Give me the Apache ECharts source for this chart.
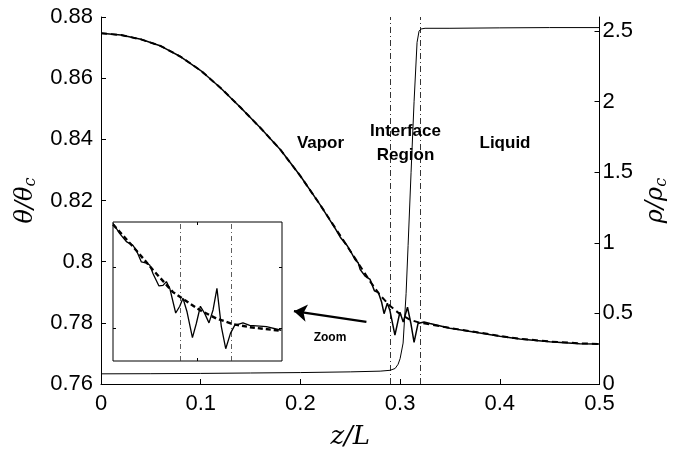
<!DOCTYPE html>
<html><head><meta charset="utf-8">
<script src="https://cdn.jsdelivr.net/npm/echarts@6/dist/echarts.min.js"></script>
<style>html,body{margin:0;padding:0;background:#fff}#c{width:678px;height:455px}</style>
</head><body><div id="c"></div>
<script>
// ---- main panel: temperature (simulation, noisy solid) ----
const zThetaSim = [0,0.02,0.04,0.06,0.08,0.10,0.12,0.14,0.16,0.18,0.20,0.22,0.235,0.24,0.2466,0.251,0.255,0.258,0.26,0.2649,0.2699,0.2742,0.2782,0.2815,0.2839,0.2872,0.2898,0.2948,0.2998,0.3031,0.3074,0.3108,0.3140,0.3180,0.3240,0.33,0.35,0.38,0.40,0.42,0.45,0.48,0.5];
const thetaSim = [0.8747,0.8741,0.8727,0.8705,0.8670,0.8625,0.8568,0.8504,0.8437,0.8366,0.8280,0.8185,0.8108,0.8080,0.8054,0.8030,0.8006,0.7996,0.7974,0.7953,0.7942,0.7905,0.7899,0.7867,0.7830,0.7864,0.7840,0.7760,0.7835,0.7803,0.7851,0.7798,0.7736,0.7798,0.7803,0.7798,0.7782,0.7767,0.7756,0.7747,0.7738,0.7732,0.7731];
// ---- main panel: temperature (smooth, dashed) ----
const zThetaFit = [0,0.02,0.04,0.06,0.08,0.10,0.12,0.14,0.16,0.18,0.20,0.22,0.24,0.26,0.27,0.28,0.29,0.30,0.31,0.32,0.33,0.35,0.38,0.40,0.42,0.45,0.48,0.5];
const thetaFit = [0.8747,0.8741,0.8727,0.8705,0.8670,0.8625,0.8568,0.8504,0.8437,0.8366,0.8280,0.8185,0.8085,0.7985,0.7935,0.7890,0.7855,0.7828,0.7810,0.7800,0.7795,0.7783,0.7768,0.7757,0.7748,0.7739,0.7733,0.7731];
// ---- main panel: density (right axis) ----
const zRho = [0,0.05,0.1,0.15,0.2,0.25,0.28,0.29,0.295,0.298,0.3,0.303,0.306,0.308,0.311,0.314,0.317,0.319,0.321,0.325,0.35,0.4,0.45,0.5];
const rho = [0.072,0.073,0.075,0.078,0.081,0.086,0.091,0.097,0.11,0.14,0.18,0.29,0.64,0.98,1.5,2.0,2.42,2.5,2.515,2.52,2.52,2.523,2.525,2.525];
// interface boundaries
const interfaceZ = [0.2925, 0.32];
// ---- inset (zoom) ----
const zInsetSim = [0.25,0.2540,0.2579,0.2618,0.2638,0.2668,0.2698,0.2717,0.2737,0.2772,0.2796,0.2816,0.2836,0.2871,0.2895,0.2914,0.2938,0.2970,0.2993,0.3017,0.3043,0.3068,0.3092,0.3115,0.3141,0.3167,0.3195,0.3220,0.3269,0.3309,0.3408,0.3496];
const thetaInsetSim = [0.7971,0.7954,0.7941,0.7935,0.7927,0.7908,0.7906,0.7903,0.7889,0.7869,0.7870,0.7876,0.7865,0.7825,0.7836,0.7849,0.7827,0.7785,0.7808,0.7836,0.7824,0.7809,0.7830,0.7865,0.7803,0.7767,0.7792,0.7805,0.7809,0.7805,0.7803,0.7797];
const zInsetFit = [0.25,0.2618,0.2737,0.2855,0.2924,0.3013,0.3112,0.3210,0.3309,0.3496];
const thetaInsetFit = [0.7969,0.7933,0.7895,0.7859,0.7846,0.7830,0.7816,0.7807,0.7802,0.7796];
const insetInterfaceZ = [0.2924, 0.3195];
const insetYTicks = [0.78, 0.79];
const insetXTicks = [0.3];
// axis ticks
const thetaTicks = [0.76,0.78,0.80,0.82,0.84,0.86,0.88];
const rhoTicks = [0,0.5,1,1.5,2,2.5];
const zTicks = [0,0.1,0.2,0.3,0.4,0.5];
// annotation arrow (from, to) in data coords
const arrowFrom = [0.2662, 0.7803];
const arrowTo = [0.1935, 0.7838];

const pairs = (xs, ys) => xs.map((x, i) => [x, ys[i]]);
const FONT = '"Liberation Sans", Arial, Helvetica, sans-serif';
const SERIF = '"DejaVu Serif", "Liberation Serif", serif';
const K = '#000';

const mainTick = {show:true, inside:true, length:5, lineStyle:{color:K, width:1}};
const lbl = {fontSize:22, color:K, fontFamily:FONT};
const insetAxisCommon = {
  type:'value', axisLine:{show:false}, axisLabel:{show:false}, splitLine:{show:false},
};

const chart = echarts.init(document.getElementById('c'));
chart.setOption({
  animation:false,
  backgroundColor:'#fff',
  grid:[
    {left:101, right:77, top:17, bottom:63, show:false},
    {left:113, top:222, width:169, height:139, show:true, backgroundColor:'#fff', borderColor:K, borderWidth:1, z:5}
  ],
  xAxis:[
    {gridIndex:0, type:'value', min:0, max:0.5, interval:0.1, position:'bottom',
     axisLine:{show:true, onZero:false, lineStyle:{color:K, width:1}},
     axisTick:Object.assign({customValues:zTicks}, mainTick),
     axisLabel:Object.assign({margin:9, customValues:zTicks}, lbl),
     splitLine:{show:false},
     name:'z/L', nameLocation:'middle', nameGap:40,
     nameTextStyle:{fontFamily:SERIF, fontStyle:'italic', fontSize:26, color:K}},
    Object.assign({gridIndex:1, min:0.25, max:0.35, position:'bottom', z:6,
      axisTick:{show:true, inside:true, length:3, customValues:insetXTicks, lineStyle:{color:K}}}, insetAxisCommon),
    Object.assign({gridIndex:1, min:0.25, max:0.35, position:'top', z:6,
      axisTick:{show:true, inside:true, length:3, customValues:insetXTicks, lineStyle:{color:K}}}, insetAxisCommon)
  ],
  yAxis:[
    {gridIndex:0, type:'value', min:0.76, max:0.88, interval:0.02, position:'left',
     axisLine:{show:true, onZero:false, lineStyle:{color:K, width:1}},
     axisTick:Object.assign({customValues:thetaTicks}, mainTick),
     axisLabel:Object.assign({margin:8, customValues:thetaTicks}, lbl),
     splitLine:{show:false},
     name:'{a|θ/θ}{b|c}', nameLocation:'middle', nameGap:58, nameRotate:90,
     nameTextStyle:{rich:{
       a:{fontFamily:SERIF, fontStyle:'italic', fontSize:24, color:K, lineHeight:28},
       b:{fontFamily:SERIF, fontStyle:'italic', fontSize:16, color:K, lineHeight:16, verticalAlign:'bottom'}}}},
    {gridIndex:0, type:'value', min:0, max:2.6, position:'right',
     axisLine:{show:true, onZero:false, lineStyle:{color:K, width:1}},
     axisTick:Object.assign({customValues:rhoTicks}, mainTick),
     axisLabel:Object.assign({margin:3, customValues:rhoTicks}, lbl),
     splitLine:{show:false},
     name:'{a|ρ/ρ}{b|c}', nameLocation:'middle', nameGap:40, nameRotate:90,
     nameTextStyle:{rich:{
       a:{fontFamily:SERIF, fontStyle:'italic', fontSize:24, color:K, lineHeight:28},
       b:{fontFamily:SERIF, fontStyle:'italic', fontSize:16, color:K, lineHeight:16, verticalAlign:'bottom'}}}},
    Object.assign({gridIndex:1, min:0.7747, max:0.7973, position:'left', z:6,
      axisTick:{show:true, inside:true, length:3, customValues:insetYTicks, lineStyle:{color:K}}}, insetAxisCommon),
    Object.assign({gridIndex:1, min:0.7747, max:0.7973, position:'right', z:6,
      axisTick:{show:true, inside:true, length:3, customValues:insetYTicks, lineStyle:{color:K}}}, insetAxisCommon)
  ],
  series:[
    {type:'line', name:'theta fit', xAxisIndex:0, yAxisIndex:0, data:pairs(zThetaFit, thetaFit),
     showSymbol:false, symbol:'none', lineStyle:{color:K, width:2, type:[6,4]}, z:3},
    {type:'line', name:'theta sim', xAxisIndex:0, yAxisIndex:0, data:pairs(zThetaSim, thetaSim),
     showSymbol:false, symbol:'none', lineStyle:{color:K, width:1.5}, z:4,
     markLine:{silent:true, symbol:['none','arrow'], symbolSize:13, animation:false,
       itemStyle:{color:K}, lineStyle:{color:K, width:2.2, type:'solid'}, label:{show:false},
       data:[[{coord:arrowFrom, symbol:'none'},{coord:arrowTo, symbol:'arrow', symbolSize:13}]]}},
    {type:'line', name:'rho', xAxisIndex:0, yAxisIndex:1, data:pairs(zRho, rho),
     showSymbol:false, symbol:'none', lineStyle:{color:K, width:1}, z:3,
     markLine:{silent:true, symbol:'none', label:{show:false},
       lineStyle:{color:K, width:0.8, type:[6,3,1,3]},
       data:interfaceZ.map(v => ({xAxis:v}))}},
    {type:'line', name:'inset fit', xAxisIndex:1, yAxisIndex:2, data:pairs(zInsetFit, thetaInsetFit),
     showSymbol:false, symbol:'none', lineStyle:{color:K, width:2.4, type:[5,3]}, z:7},
    {type:'line', name:'inset sim', xAxisIndex:1, yAxisIndex:2, data:pairs(zInsetSim, thetaInsetSim),
     showSymbol:false, symbol:'none', lineStyle:{color:K, width:1.3}, z:8,
     markLine:{silent:true, symbol:'none', label:{show:false},
       lineStyle:{color:'#333', width:0.8, type:[5,3,1,3]},
       data:insetInterfaceZ.map(v => ({xAxis:v}))}}
  ],
  graphic:[
    {type:'text', x:320.5, y:143, z:10, style:{text:'Vapor', font:'bold 17px "Liberation Sans", Arial, sans-serif', fill:K, align:'center', verticalAlign:'middle'}},
    {type:'text', x:405.5, y:143, z:10, style:{text:'Interface\nRegion', font:'bold 17px "Liberation Sans", Arial, sans-serif', lineHeight:24, fill:K, align:'center', verticalAlign:'middle'}},
    {type:'text', x:505, y:143, z:10, style:{text:'Liquid', font:'bold 17px "Liberation Sans", Arial, sans-serif', fill:K, align:'center', verticalAlign:'middle'}},
    {type:'text', x:330, y:338, z:10, style:{text:'Zoom', font:'bold 12px "Liberation Sans", Arial, sans-serif', fill:K, align:'center', verticalAlign:'middle'}}
  ]
});
</script></body></html>
